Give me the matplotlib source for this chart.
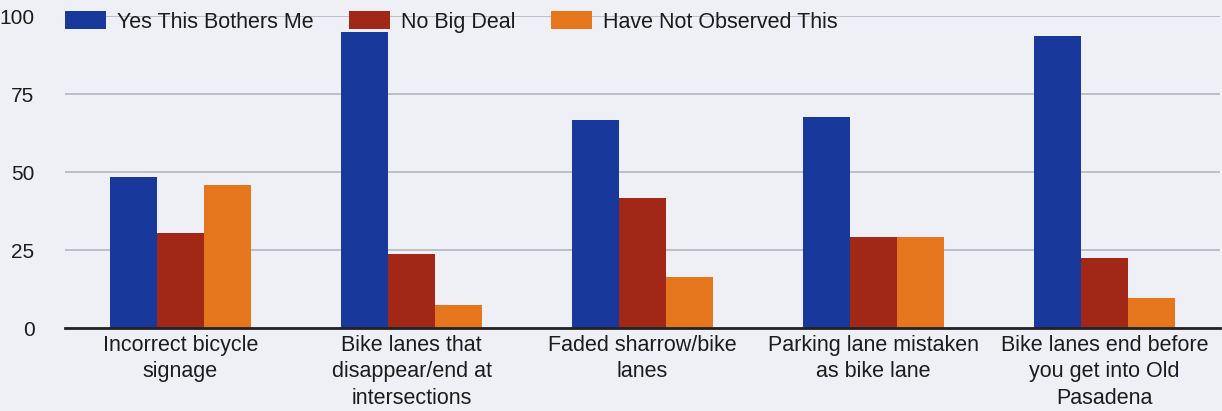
import numpy as np
import matplotlib
matplotlib.use("Agg")
import matplotlib.pyplot as plt

plt.rcParams['font.family'] = ['Liberation Sans', 'DejaVu Sans']

categories = ["Incorrect bicycle\nsignage",
              "Bike lanes that\ndisappear/end at\nintersections",
              "Faded sharrow/bike\nlanes",
              "Parking lane mistaken\nas bike lane",
              "Bike lanes end before\nyou get into Old\nPasadena"]
series = ["Yes This Bothers Me", "No Big Deal", "Have Not Observed This"]
yes_vals = [48.5, 94.8, 66.7, 67.7, 93.6]
nobig_vals = [30.5, 23.7, 41.8, 29.3, 22.5]
notobs_vals = [45.8, 7.4, 16.2, 29.3, 9.5]
yticks = [0, 25, 50, 75, 100]

colors = ["#18389b", "#a12816", "#e5761d"]
txt = "#1c1c1c"

fig = plt.figure(figsize=(12.22, 4.11), dpi=100)
fig.patch.set_facecolor("#eef0f6")
ax = fig.add_axes([65/1222, 1-328/411, 1155/1222, 312/411])
ax.set_facecolor("#eef0f6")

x = np.arange(len(categories))
w = 0.203
for i, (vals, name) in enumerate(zip([yes_vals, nobig_vals, notobs_vals], series)):
    ax.bar(x + (i-1)*w, vals, w, color=colors[i], label=name, zorder=3)

ax.set_xlim(-0.5, 4.5)
ax.set_ylim(0, 100)
ax.set_yticks(yticks)
ax.set_xticks(x)
ax.set_xticklabels(categories, fontsize=15.5, color=txt, linespacing=1.33)
ax.tick_params(axis='y', labelsize=15, length=0, pad=22, labelcolor=txt)
ax.tick_params(axis='x', length=0, pad=5)
ax.grid(axis='y', color="#b4b6c0", linewidth=1.2, zorder=0)
for s in ['top', 'right', 'left']:
    ax.spines[s].set_visible(False)
ax.spines['bottom'].set_color("#222222")
ax.spines['bottom'].set_linewidth(2)
ax.spines['bottom'].set_zorder(4)

ax.legend(loc='center left', bbox_to_anchor=(0.0, 1-6/312), ncol=3, frameon=False,
          fontsize=15.5, handlelength=1.9, handleheight=0.88, handletextpad=0.5,
          columnspacing=1.67, borderaxespad=0, borderpad=0, labelcolor=txt)

fig.savefig("out.png", dpi=100, facecolor=fig.get_facecolor())
